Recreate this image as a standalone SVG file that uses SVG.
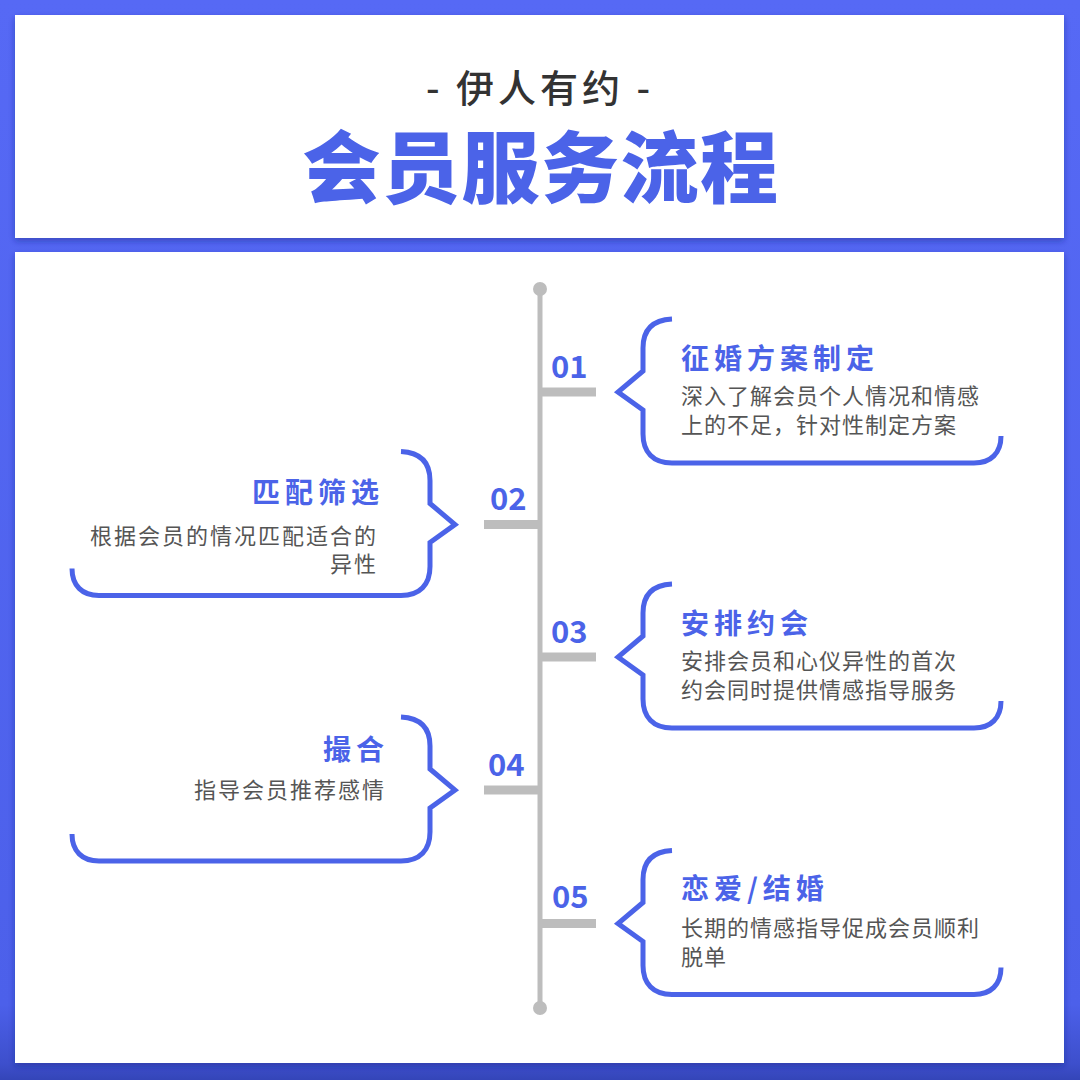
<svg xmlns="http://www.w3.org/2000/svg" xmlns:xlink="http://www.w3.org/1999/xlink" width="1080" height="1080" viewBox="0 0 1080 1080">
<defs>
<linearGradient id="bg" x1="0" y1="0" x2="0" y2="1">
<stop offset="0" stop-color="#5669F5"/>
<stop offset="0.93" stop-color="#4C60EA"/>
<stop offset="0.985" stop-color="#3D4FCC"/>
<stop offset="1" stop-color="#3445B8"/>
</linearGradient>
<filter id="sh" x="-5%" y="-5%" width="110%" height="115%">
<feDropShadow dx="0" dy="3" stdDeviation="3" flood-color="#1B2585" flood-opacity="0.45"/>
</filter>
<path id="br" d="M 672 -73 C 652 -72 643 -62 643 -44 L 643 -21 L 618 0 L 643 18 L 643 42 C 643 60 653 71 672 71 L 974 71 C 991 71 1001 61 1001 44"/>
<style>
.br{fill:none;stroke:#4B63E8;stroke-width:5;stroke-linejoin:miter;stroke-linecap:butt}
.tick{fill:#BDBDBD}
.num{font-family:"Noto Sans CJK SC","Noto Sans",sans-serif;font-weight:700;font-size:31px;fill:#4B63E8}
.ttl{font-family:"Noto Sans CJK SC",sans-serif;font-weight:700;font-size:28px;letter-spacing:5px;fill:#4B63E8}
.body{font-family:"Noto Sans CJK SC",sans-serif;font-weight:400;font-size:22px;letter-spacing:1px;fill:#555555}
.bodyl{font-family:"Noto Sans CJK SC",sans-serif;font-weight:400;font-size:22px;letter-spacing:2px;fill:#555555}
</style>
</defs>
<rect x="0" y="0" width="1080" height="1080" fill="url(#bg)"/>
<rect x="15" y="15" width="1049" height="223" fill="#FFFFFF" filter="url(#sh)"/>
<rect x="15" y="252" width="1049" height="811" fill="#FFFFFF" filter="url(#sh)"/>

<g id="header">
<text x="540" y="102" text-anchor="middle" font-family="'Noto Sans CJK SC',sans-serif" font-weight="500" font-size="38" letter-spacing="4" fill="#333333">- 伊人有约 -</text>
<text x="541" y="197" text-anchor="middle" font-family="'Noto Sans CJK SC',sans-serif" font-weight="900" font-size="78" letter-spacing="1.5" fill="#4B63E8">会员服务流程</text>
</g>

<g id="connectors">
<line x1="540" y1="290" x2="540" y2="1008" stroke="#BDBDBD" stroke-width="5"/>
<circle cx="540" cy="289" r="7" fill="#BDBDBD"/>
<circle cx="540" cy="1008" r="7" fill="#BDBDBD"/>
<rect class="tick" x="540" y="387.5" width="56" height="9"/>
<rect class="tick" x="484" y="520" width="56" height="9"/>
<rect class="tick" x="540" y="652.5" width="56" height="9"/>
<rect class="tick" x="484" y="785.5" width="56" height="9"/>
<rect class="tick" x="540" y="919" width="56" height="9"/>
</g>

<g id="step01">
<use xlink:href="#br" href="#br" class="br" transform="translate(0,392)"/>
<text class="num" x="551" y="378">01</text>
<text class="ttl" x="681" y="369">征婚方案制定</text>
<text class="body" x="681" y="404">深入了解会员个人情况和情感</text>
<text class="body" x="681" y="432.5">上的不足，针对性制定方案</text>
</g>

<g id="step02">
<use xlink:href="#br" href="#br" class="br" transform="matrix(-1 0 0 1 1073 524.5)"/>
<text class="num" x="490" y="510">02</text>
<text class="ttl" x="384" y="503" text-anchor="end">匹配筛选</text>
<text class="bodyl" x="378" y="543.5" text-anchor="end">根据会员的情况匹配适合的</text>
<text class="bodyl" x="378" y="572" text-anchor="end">异性</text>
</g>

<g id="step03">
<use xlink:href="#br" href="#br" class="br" transform="translate(0,657)"/>
<text class="num" x="551" y="643">03</text>
<text class="ttl" x="681" y="634">安排约会</text>
<text class="body" x="681" y="669">安排会员和心仪异性的首次</text>
<text class="body" x="681" y="697.5">约会同时提供情感指导服务</text>
</g>

<g id="step04">
<use xlink:href="#br" href="#br" class="br" transform="matrix(-1 0 0 1 1073 790)"/>
<text class="num" x="488" y="776">04</text>
<text class="ttl" x="389" y="760" text-anchor="end">撮合</text>
<text class="bodyl" x="386" y="798" text-anchor="end">指导会员推荐感情</text>
</g>

<g id="step05">
<use xlink:href="#br" href="#br" class="br" transform="translate(0,923.5)"/>
<text class="num" x="552" y="908">05</text>
<text class="ttl" x="681" y="899">恋爱/结婚</text>
<text class="body" x="681" y="936">长期的情感指导促成会员顺利</text>
<text class="body" x="681" y="965">脱单</text>
</g>
</svg>
